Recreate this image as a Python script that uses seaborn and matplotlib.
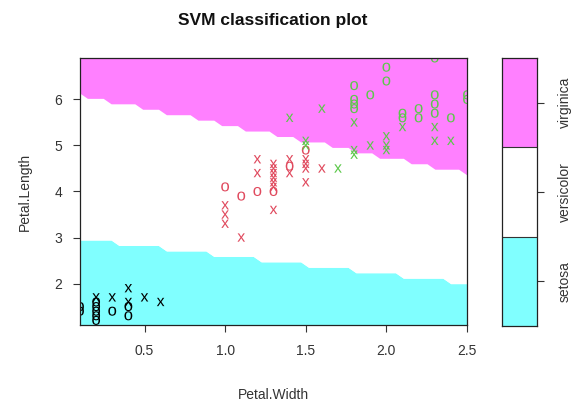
import numpy as np
import pandas as pd
import matplotlib
matplotlib.use("Agg")
import matplotlib.pyplot as plt
import seaborn as sns
from matplotlib.textpath import TextPath
from matplotlib.font_manager import FontProperties
from matplotlib.path import Path
from matplotlib.markers import MarkerStyle

sns.set_theme(style="ticks")
plt.rcParams['font.family'] = ['Liberation Sans', 'DejaVu Sans']

# ---------------- data ----------------
classes = ["setosa", "versicolor", "virginica"]
class_colors = ["#000000", "#E04A5E", "#5CC84A"]
region_colors = ["#80FFFF", "#FFFFFF", "#FF80FF"]

# support vectors (drawn as "x")
setosa_sv_w = [0.2, 0.3, 0.4, 0.4, 0.5, 0.6]
setosa_sv_l = [1.7, 1.7, 1.9, 1.6, 1.7, 1.6]
versicolor_sv_w = [1.0, 1.0, 1.0, 1.1, 1.2, 1.2, 1.3, 1.3, 1.3, 1.3, 1.3, 1.3, 1.3,
                   1.4, 1.4, 1.5, 1.5, 1.5, 1.5, 1.6]
versicolor_sv_l = [3.7, 3.5, 3.3, 3.0, 4.7, 4.4, 4.6, 4.5, 4.4, 4.3, 4.2, 4.1, 3.6,
                   4.7, 4.4, 4.7, 4.6, 4.5, 4.2, 4.5]
virginica_sv_w = [1.4, 1.5, 1.5, 1.6, 1.7, 1.8, 1.8, 1.8, 1.9, 2.0, 2.0, 2.0, 2.1,
                  2.3, 2.3, 2.4]
virginica_sv_l = [5.6, 5.0, 5.1, 5.8, 4.5, 5.5, 4.9, 4.8, 5.0, 5.2, 5.0, 4.9, 5.4,
                  5.4, 5.1, 5.1]

# other observations (drawn as "o")
setosa_pt_w = [0.1, 0.1, 0.2, 0.2, 0.2, 0.2, 0.2, 0.3, 0.4, 0.4]
setosa_pt_l = [1.4, 1.5, 1.2, 1.3, 1.4, 1.5, 1.6, 1.4, 1.5, 1.3]
versicolor_pt_w = [1.0, 1.1, 1.2, 1.3, 1.4, 1.5]
versicolor_pt_l = [4.1, 3.9, 4.0, 4.0, 4.55, 4.9]
virginica_pt_w = [1.8, 1.8, 1.8, 1.8, 1.9, 2.0, 2.0, 2.1, 2.1, 2.2, 2.2, 2.3, 2.3,
                  2.3, 2.3, 2.4, 2.5, 2.5]
virginica_pt_l = [6.3, 6.0, 5.9, 5.8, 6.1, 6.7, 6.4, 5.7, 5.6, 5.8, 5.6, 6.9, 6.1,
                  5.9, 5.7, 5.6, 6.0, 6.1]

# fitted decision boundaries (Petal.Length = a + b * Petal.Width)
upper_boundary = (6.16, -0.71)   # versicolor | virginica
lower_boundary = (3.00, -0.40)   # setosa | versicolor

x_range = (0.1, 2.5)
y_range = (1.1, 6.9)
grid_n = 50

x_ticks = [0.5, 1.0, 1.5, 2.0, 2.5]
y_ticks = [2, 3, 4, 5, 6]

# ---------------- tables ----------------
def frame(w, l, sp):
    return pd.DataFrame({"Petal.Width": w, "Petal.Length": l, "Species": sp})

sv_df = pd.concat([frame(setosa_sv_w, setosa_sv_l, "setosa"),
                   frame(versicolor_sv_w, versicolor_sv_l, "versicolor"),
                   frame(virginica_sv_w, virginica_sv_l, "virginica")])
pt_df = pd.concat([frame(setosa_pt_w, setosa_pt_l, "setosa"),
                   frame(versicolor_pt_w, versicolor_pt_l, "versicolor"),
                   frame(virginica_pt_w, virginica_pt_l, "virginica")])
palette = dict(zip(classes, class_colors))

gx = np.linspace(*x_range, grid_n)
gy = np.linspace(*y_range, grid_n)
GX, GY = np.meshgrid(gx, gy)
Z = np.ones_like(GX)
Z[GY > upper_boundary[0] + upper_boundary[1] * GX] = 2
Z[GY < lower_boundary[0] + lower_boundary[1] * GX] = 0


def glyph_marker(ch):
    tp = TextPath((0, 0), ch, size=1, prop=FontProperties(family="Liberation Sans"))
    v = tp.vertices.copy()
    bb = tp.get_extents()
    v[:, 0] -= (bb.x0 + bb.x1) / 2
    v[:, 1] -= (bb.y0 + bb.y1) / 2
    return MarkerStyle(Path(v, tp.codes))

mark_x = glyph_marker("x")
mark_o = glyph_marker("o")

# ---------------- figure ----------------
fig = plt.figure(figsize=(5.78, 4.03), dpi=100)
ax = fig.add_axes([80 / 578, 1 - 325 / 403, 387 / 578, 267 / 403])

ax.contourf(GX, GY, Z, levels=[-0.5, 0.5, 1.5, 2.5], colors=region_colors,
            antialiased=True)

sns.scatterplot(data=pt_df, x="Petal.Width", y="Petal.Length", hue="Species",
                hue_order=classes, palette=palette, marker=mark_o, s=44,
                linewidth=0, edgecolor="none", legend=False, ax=ax)
sns.scatterplot(data=sv_df, x="Petal.Width", y="Petal.Length", hue="Species",
                hue_order=classes, palette=palette, marker=mark_x, s=36,
                linewidth=0, edgecolor="none", legend=False, ax=ax)

ax.set_xlim(*x_range)
ax.set_ylim(*y_range)
ax.set_xticks(x_ticks)
ax.set_xticklabels([f"{t:.1f}" for t in x_ticks])
ax.set_yticks(y_ticks)
ax.set_yticklabels([str(t) for t in y_ticks])
ax.tick_params(axis="both", direction="out", length=5, width=0.8, color="#333333",
               labelsize=10, labelcolor="#333333")
ax.tick_params(axis="x", pad=9)
ax.tick_params(axis="y", pad=8)
for s in ax.spines.values():
    s.set_color("#222222")
    s.set_linewidth(0.9)

ax.set_xlabel("Petal.Width", fontsize=10, color="#333333")
ax.set_ylabel("Petal.Length", fontsize=10, color="#333333")
ax.xaxis.set_label_coords(0.5, -0.235)
ax.yaxis.set_label_coords(-0.125, 0.5)

fig.text(273 / 578, 1 - 20 / 403, "SVM classification plot", ha="center",
         va="center", fontsize=12.5, fontweight="bold", color="#111111")

# key
kax = fig.add_axes([502 / 578, 1 - 326 / 403, 35 / 578, 268 / 403])
kax.set_xlim(0, 1)
kax.set_ylim(0.5, 3.5)
for i, c in enumerate(region_colors):
    kax.axhspan(i + 0.5, i + 1.5, color=c, lw=0)
    if i > 0:
        kax.axhline(i + 0.5, color="#333333", lw=0.8)
kax.set_xticks([])
kax.yaxis.tick_right()
kax.set_yticks([1, 2, 3])
kax.set_yticklabels(classes, rotation=90, va="center", fontsize=10, color="#333333")
kax.tick_params(axis="y", direction="out", length=5, width=0.8, color="#333333", pad=10)
for s in kax.spines.values():
    s.set_color("#222222")
    s.set_linewidth(0.9)

fig.savefig("out.png", dpi=100)
